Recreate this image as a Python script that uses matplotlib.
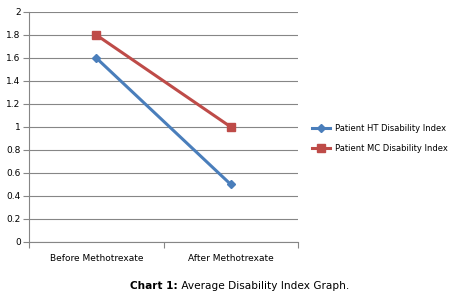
import matplotlib.pyplot as plt

# average disability index before / after methotrexate
stages = ["Before Methotrexate", "After Methotrexate"]
ht_index = [1.6, 0.5]
mc_index = [1.8, 1.0]
yticks = [0, 0.2, 0.4, 0.6, 0.8, 1, 1.2, 1.4, 1.6, 1.8, 2]

fig = plt.figure(figsize=(4.6, 2.98), dpi=100)
ax = fig.add_axes([0.063, 0.188, 0.585, 0.772])

xs = [0.5, 1.5]
ax.plot(xs, ht_index, color="#4A7EBB", lw=2.2, marker="D", ms=4.5,
        label="Patient HT Disability Index")
ax.plot(xs, mc_index, color="#BE4B48", lw=2.2, marker="s", ms=6,
        label="Patient MC Disability Index")

ax.set_xlim(0, 2)
ax.set_ylim(0, 2)
ax.set_yticks(yticks)
ax.set_yticklabels([("%g" % v) for v in yticks], fontsize=6.5)
ax.set_xticks([0, 1, 2])
ax.set_xticklabels([])
ax.set_xticks(xs, minor=True)
ax.set_xticklabels(stages, minor=True, fontsize=6.5)
ax.tick_params(axis="x", which="minor", length=0, pad=9)
ax.tick_params(axis="x", which="major", length=4, color="#868686")
ax.tick_params(axis="y", length=4, color="#868686", pad=2)
ax.grid(axis="y", color="#868686", lw=0.8)
ax.set_axisbelow(True)
for s in ["top", "right"]:
    ax.spines[s].set_visible(False)
for s in ["left", "bottom"]:
    ax.spines[s].set_color("#868686")

fig.legend(loc="center left", bbox_to_anchor=(0.662, 0.535), frameon=False,
           fontsize=6, handlelength=2.2, handletextpad=0.5, labelspacing=1.3)

t = fig.text(0.283, 0.03, "Chart 1:", fontsize=7.6, fontweight="bold")
fig.text(0.283, 0.03, " Average Disability Index Graph.", fontsize=7.6)
fig.canvas.draw()
bb = t.get_window_extent()
fig.texts[-1].set_x(bb.x1 / fig.bbox.width)

fig.savefig("out.png", dpi=100)
